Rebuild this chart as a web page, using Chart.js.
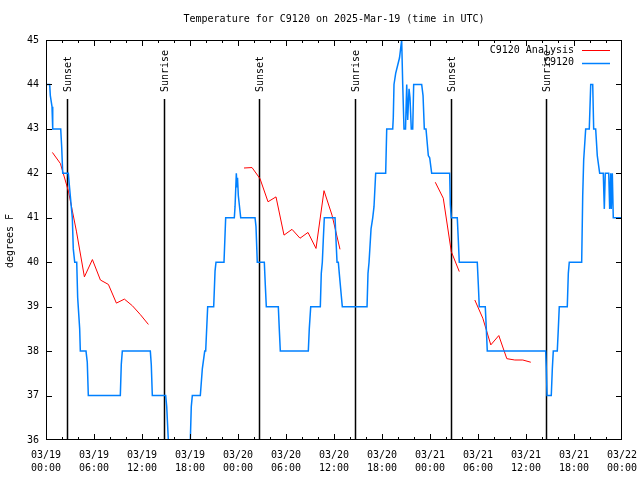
<!DOCTYPE html>
<html>
<head>
<meta charset="utf-8">
<script src="https://cdn.jsdelivr.net/npm/chart.js@4/dist/chart.umd.min.js"></script>
<style>
  html, body { margin: 0; padding: 0; background: #fff; }
  #wrap { width: 640px; height: 480px; }
</style>
</head>
<body>
<div id="wrap"><canvas id="chart" width="640" height="480"></canvas></div>
<script>
// hours since 03/19 00:00 UTC
const obsHours = [0, 0.46, 0.54, 0.75, 0.84, 1.84, 1.96, 2.09, 2.79, 2.91, 3.16, 3.29, 3.41, 3.59, 3.84, 3.96, 4.21, 4.29, 5.0, 5.16, 5.29,
  9.29, 9.41, 9.54, 13.04, 13.16, 13.29, 14.96, 15.09, 15.29, 15.5, 17.75, 18.04, 18.16, 18.29, 19.29, 19.54, 19.84, 19.96,
  20.21, 20.96, 21.13, 21.25, 22.25, 22.46, 23.54, 23.63, 23.79, 23.88, 23.94, 24.04, 24.34, 26.13, 26.25, 26.41, 27.29,
  27.41, 27.54, 29.04, 29.16, 29.29, 32.79, 32.91, 33.09, 34.29, 34.41, 34.54, 34.66, 34.79, 36.13, 36.25, 36.38, 36.54,
  36.66, 36.91, 37.04, 40.13, 40.25, 40.38, 40.63, 40.84, 41.0, 41.21, 42.46, 42.59, 43.34, 43.41, 43.5, 43.71, 44.19,
  44.46, 44.59, 44.75, 44.94, 45.09, 45.21, 45.38, 45.5, 45.66, 45.84, 45.96, 46.96, 47.13, 47.29, 47.5, 47.79, 47.96,
  48.21, 50.46, 50.54, 50.66, 51.41, 51.54, 51.66, 53.91, 54.04, 54.16, 54.91, 55.04, 55.16, 62.46, 62.54, 62.63, 63.16,
  63.29, 63.41, 63.91, 64.04, 64.16, 65.16, 65.29, 65.41, 66.96, 67.09, 67.21, 67.46, 67.91, 68.09, 68.34, 68.46, 68.71,
  68.91, 69.21, 69.66, 69.79, 69.91, 70.34, 70.46, 70.59, 70.66, 70.79, 70.91, 72];
const obsTemps = [44, 44, 43.75, 43.5, 43, 43, 42.6, 42, 42, 41.75, 41.25, 41, 40.3, 40, 40, 39.2, 38.5, 38, 38, 37.75, 37,
  37, 37.7, 38, 38, 37.7, 37, 37, 36.75, 36, 35.5, 35.5, 36, 36.75, 37, 37, 37.6, 38, 38,
  39, 39, 39.8, 40, 40, 41, 41, 41.25, 42, 41.7, 41.9, 41.5, 41, 41, 40.8, 40, 40,
  39.5, 39, 39, 38.5, 38, 38, 38.5, 39, 39, 39.75, 40, 40.5, 41, 41, 40.5, 40, 40,
  39.75, 39.25, 39, 39, 39.75, 40, 40.75, 41, 41.25, 42, 42, 43, 43, 43.25, 44, 44.25, 44.6,
  45, 44, 43, 43, 44, 43.2, 43.9, 43.7, 43, 43, 44, 44, 43.75, 43, 43, 42.4, 42.35,
  42, 42, 41.3, 41, 41, 40.5, 40, 40, 39.5, 39, 39, 38.5, 38, 38, 37.6, 37, 37,
  37.6, 38, 38, 38.5, 39, 39, 39.75, 40, 40, 41.5, 42.3, 43, 43, 44, 44, 43, 43,
  42.4, 42, 42, 41.2, 42, 42, 41.2, 42, 41.2, 42, 41, 41];

const anaHours = [0.8, 1.8, 2.8, 3.8, 4.8, 5.8, 6.8, 7.8, 8.8, 9.8, 10.8, 11.8, 12.8, 18,
  24.75, 25.75, 26.75, 27.75, 28.75, 29.75, 30.75, 31.75, 32.75, 33.75, 34.75, 35.75, 36.75, 42,
  48.66, 49.66, 50.66, 51.66, 52.5,
  53.6, 54.6, 55.6, 56.6, 57.6, 58.6, 59.6, 60.6];
const anaTemps = [42.47, 42.22, 41.6, 40.7, 39.67, 40.06, 39.6, 39.5, 39.08, 39.17, 39.02, 38.82, 38.6, null,
  42.12, 42.13, 41.88, 41.36, 41.47, 40.61, 40.74, 40.54, 40.67, 40.31, 41.61, 41.06, 40.29, null,
  41.8, 41.44, 40.24, 39.79, null,
  39.15, 38.74, 38.14, 38.35, 37.83, 37.8, 37.8, 37.75];

const sunHours = [2.67, 14.79, 26.67, 38.66, 50.67, 62.54];
const sunLabels = ['Sunset', 'Sunrise', 'Sunset', 'Sunrise', 'Sunset', 'Sunrise'];

const tickDates = ['03/19', '03/19', '03/19', '03/19', '03/20', '03/20', '03/20', '03/20', '03/21', '03/21', '03/21', '03/21', '03/22'];
const tickTimes = ['00:00', '06:00', '12:00', '18:00', '00:00', '06:00', '12:00', '18:00', '00:00', '06:00', '12:00', '18:00', '00:00'];

const FAMILY = 'DejaVu Sans Mono, monospace';
const FONT = '10px ' + FAMILY;
const RED = '#ff0000';
const BLUE = '#0080ff';

const gnuplotFrame = {
  id: 'gnuplotFrame',
  beforeDatasetsDraw(chart) {
    const { ctx, chartArea: a, scales: { x } } = chart;
    ctx.save();
    ctx.strokeStyle = '#000';
    ctx.fillStyle = '#000';
    ctx.lineWidth = 1.5;
    ctx.font = FONT;
    sunHours.forEach((h, i) => {
      const px = Math.round(x.getPixelForValue(h)) + 0.5;
      ctx.beginPath();
      ctx.moveTo(px, a.top + 59);
      ctx.lineTo(px, a.bottom);
      ctx.stroke();
      ctx.save();
      ctx.translate(px + 1, a.top + 52);
      ctx.rotate(-Math.PI / 2);
      ctx.textAlign = 'left';
      ctx.textBaseline = 'middle';
      ctx.fillText(sunLabels[i], 0, 0);
      ctx.restore();
    });
    ctx.restore();
  },
  afterDatasetsDraw(chart) {
    const { ctx, chartArea: a, scales: { x, y } } = chart;
    ctx.save();
    ctx.strokeStyle = '#000';
    ctx.lineWidth = 1;
    ctx.strokeRect(a.left + 0.5, a.top + 0.5, a.right - a.left - 1, a.bottom - a.top - 1);

    // inward ticks, mirrored
    ctx.beginPath();
    for (let h = 2; h < 72; h += 2) {
      const px = Math.round(x.getPixelForValue(h)) + 0.5;
      const len = h % 6 === 0 ? 6 : 3;
      ctx.moveTo(px, a.bottom); ctx.lineTo(px, a.bottom - len);
      ctx.moveTo(px, a.top); ctx.lineTo(px, a.top + len);
    }
    for (let v = 37; v < 45; v++) {
      const py = Math.round(y.getPixelForValue(v)) + 0.5;
      ctx.moveTo(a.left, py); ctx.lineTo(a.left + 6, py);
      ctx.moveTo(a.right, py); ctx.lineTo(a.right - 6, py);
    }
    ctx.stroke();

    ctx.fillStyle = '#000';
    ctx.font = FONT;
    ctx.textBaseline = 'middle';

    // title
    ctx.textAlign = 'center';
    ctx.fillText('Temperature for C9120 on 2025-Mar-19 (time in UTC)', (a.left + a.right) / 2, 19);

    // y axis title
    ctx.save();
    ctx.translate(10, (a.top + a.bottom) / 2 + 1);
    ctx.rotate(-Math.PI / 2);
    ctx.fillText('degrees F', 0, 0);
    ctx.restore();

    // key
    const keys = [['C9120 Analysis', RED, 1], ['C9120', BLUE, 1.5]];
    keys.forEach(([label, color, w], i) => {
      const ky = 50 + i * 12.5;
      ctx.textAlign = 'right';
      ctx.fillStyle = '#000';
      ctx.fillText(label, 574, ky);
      ctx.strokeStyle = color;
      ctx.lineWidth = w;
      ctx.beginPath();
      ctx.moveTo(582, Math.round(ky) + 0.5);
      ctx.lineTo(610, Math.round(ky) + 0.5);
      ctx.stroke();
    });
    ctx.restore();
  }
};

new Chart(document.getElementById('chart'), {
  type: 'line',
  data: {
    datasets: [
      {
        label: 'C9120',
        data: obsHours.map((h, i) => ({ x: h, y: obsTemps[i] })),
        borderColor: BLUE,
        borderWidth: 1.5,
        pointRadius: 0,
        tension: 0,
        borderJoinStyle: 'miter'
      },
      {
        label: 'C9120 Analysis',
        data: anaHours.map((h, i) => ({ x: h, y: anaTemps[i] })),
        borderColor: RED,
        borderWidth: 1,
        pointRadius: 0,
        tension: 0,
        spanGaps: false
      }
    ]
  },
  options: {
    responsive: false,
    animation: false,
    devicePixelRatio: 1,
    layout: { padding: { top: 40, right: 18, left: 0, bottom: 0 } },
    plugins: { legend: { display: false }, tooltip: { enabled: false } },
    scales: {
      x: {
        type: 'linear',
        min: 0,
        max: 72,
        afterFit(s) { s.height = 40; s.paddingLeft = 0; s.paddingRight = 0; },
        grid: { display: false, drawTicks: false },
        border: { display: false },
        ticks: {
          stepSize: 6,
          autoSkip: false,
          maxRotation: 0,
          minRotation: 0,
          padding: 9,
          color: '#000',
          font: { family: FAMILY, size: 10, lineHeight: 1.27 },
          callback: v => [tickDates[v / 6], tickTimes[v / 6]]
        }
      },
      y: {
        min: 36,
        max: 45,
        afterFit(s) { s.width = 46; s.paddingTop = 0; s.paddingBottom = 0; },
        grid: { display: false, drawTicks: false },
        border: { display: false },
        ticks: {
          stepSize: 1,
          padding: 7,
          color: '#000',
          font: { family: FAMILY, size: 10 }
        }
      }
    }
  },
  plugins: [gnuplotFrame]
});
</script>
</body>
</html>
